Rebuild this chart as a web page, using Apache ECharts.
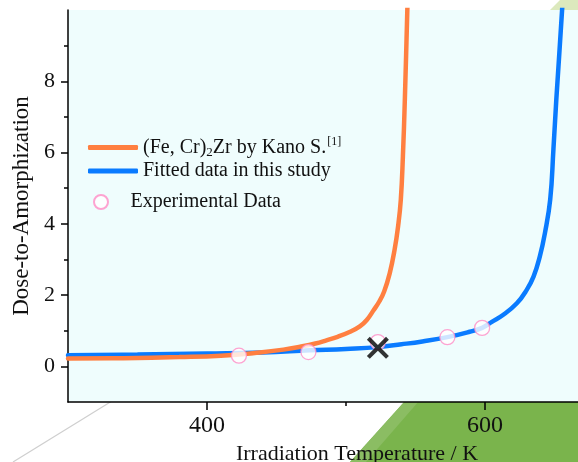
<!DOCTYPE html>
<html>
<head>
<meta charset="utf-8">
<script src="https://cdn.jsdelivr.net/npm/echarts@6/dist/echarts.min.js"></script>
<style>
  html, body { margin: 0; padding: 0; background: #fff; }
  #chart { width: 578px; height: 462px; }
</style>
</head>
<body>
<div id="chart"></div>
<script>
// (Fe, Cr)2Zr curve by Kano S.
var kanoTemp = [300, 340, 380, 410, 438, 455, 467, 478, 486, 494, 503, 510, 515, 520, 524, 527.5, 531.5, 535, 537.5, 539.5, 541, 542.4, 544.2, 544.6];
var kanoDose = [0.22, 0.23, 0.26, 0.30, 0.39, 0.47, 0.55, 0.64, 0.73, 0.83, 0.97, 1.12, 1.30, 1.58, 1.82, 2.10, 2.61, 3.27, 3.92, 4.68, 5.9, 7.49, 10.03, 10.6];

// fitted curve of this study
var fitTemp = [300, 350, 400, 440, 474, 500, 523, 540, 555, 573, 589, 598, 605, 613, 623, 630, 635, 639.5, 643.2, 647, 649.3, 651.4, 655.6, 656.2];
var fitDose = [0.31, 0.33, 0.36, 0.39, 0.45, 0.49, 0.54, 0.62, 0.70, 0.82, 0.97, 1.08, 1.25, 1.44, 1.77, 2.14, 2.52, 3.08, 3.74, 4.68, 6.08, 7.49, 10.03, 10.6];

// experimental points
var expTemp = [423, 473, 523, 573, 598];
var expDose = [0.30, 0.40, 0.68, 0.82, 1.08];

// the cross mark
var crossTemp = [523];
var crossDose = [0.52];

var xMajor = [400, 600];
var xMinor = [500];
var yMajor = [0, 2, 4, 6, 8];
var yMinor = [1, 3, 5, 7, 9];

function pairs(xs, ys) {
  return xs.map(function (x, i) { return [x, ys[i]]; });
}

var serif = 'Liberation Serif';
var ink = '#111111';

var chart = echarts.init(document.getElementById('chart'));

var crossPath = 'path://M0,2.6L2.6,0L10,7.4L17.4,0L20,2.6L12.6,10L20,17.4L17.4,20L10,12.6L2.6,20L0,17.4L7.4,10Z';

chart.setOption({
  animation: false,
  backgroundColor: '#ffffff',
  textStyle: { fontFamily: serif },
  graphic: [
    { type: 'line', z: -10, shape: { x1: 13, y1: 462, x2: 112, y2: 401 }, style: { stroke: '#cfcfcf', lineWidth: 1.2 } },
    { type: 'polygon', z: -10, shape: { points: [[405, 401], [578, 401], [578, 462], [350, 462]] }, style: { fill: '#7ab44c' } },
    { type: 'polygon', z: -9, shape: { points: [[405, 401], [419, 401], [366, 462], [350, 462]] }, style: { fill: '#8bbd63' } },
    { type: 'polygon', z: -10, shape: { points: [[560, 0], [578, 0], [578, 10], [550, 10]] }, style: { fill: '#dce9bd' } }
  ],
  grid: [
    { left: 68, right: 0, top: 10, bottom: 60, show: true, backgroundColor: '#effdfd', borderWidth: 0, containLabel: false, outerBoundsMode: 'none' },
    { left: 68, right: 0, top: 10, bottom: 60, show: false, containLabel: false, outerBoundsMode: 'none' }
  ],
  legend: [
    {
      left: 83, top: 131, orient: 'vertical', itemGap: 2,
      itemWidth: 50, itemHeight: 5, icon: 'roundRect',
      data: ['kano', 'fit'],
      formatter: function (name) {
        if (name === 'kano') return '{t|(Fe, Cr)}{sub|2}{t|Zr by Kano S.}{sup|[1]}';
        return '{t|Fitted data in this study}';
      },
      textStyle: {
        fontFamily: serif, fontSize: 20, color: ink,
        rich: {
          t: { fontFamily: serif, fontSize: 20, color: ink },
          sub: { fontFamily: serif, fontSize: 13, color: ink, padding: [10, 0, 0, 0] },
          sup: { fontFamily: serif, fontSize: 12, color: ink, padding: [0, 0, 11, 1] }
        }
      }
    },
    {
      left: 88, top: 187, orient: 'vertical',
      itemWidth: 49, itemHeight: 14, icon: 'circle',
      data: ['exp'],
      formatter: function () { return 'Experimental Data'; },
      textStyle: { fontFamily: serif, fontSize: 20, color: ink }
    }
  ],
  xAxis: [
    {
      type: 'value', gridIndex: 0, min: 300, max: 667, interval: 100,
      name: 'Irradiation Temperature / K', nameLocation: 'middle', nameGap: 38,
      nameTextStyle: { fontFamily: serif, fontSize: 22, color: ink, padding: [0, 0, 0, 68] },
      axisLine: { show: true, onZero: false, lineStyle: { color: '#000', width: 1.5 } },
      axisTick: { show: true, inside: false, length: 8, customValues: xMajor, lineStyle: { color: '#000', width: 1.5 } },
      axisLabel: { customValues: xMajor, margin: 12, fontFamily: serif, fontSize: 24, color: ink },
      splitLine: { show: false }
    },
    {
      type: 'value', gridIndex: 1, min: 300, max: 667, interval: 100,
      axisLine: { show: false, onZero: false },
      axisTick: { show: true, inside: false, length: 4, customValues: xMinor, lineStyle: { color: '#000', width: 1.5 } },
      axisLabel: { show: false },
      splitLine: { show: false }
    }
  ],
  yAxis: [
    {
      type: 'value', gridIndex: 0, min: -1, max: 10, interval: 1,
      name: 'Dose-to-Amorphization', nameLocation: 'middle', nameGap: 28,
      nameTextStyle: { fontFamily: serif, fontSize: 23, color: ink },
      axisLine: { show: true, onZero: false, lineStyle: { color: '#000', width: 1.5 } },
      axisTick: { show: true, inside: false, length: 7, customValues: yMajor, lineStyle: { color: '#000', width: 1.5 } },
      axisLabel: { customValues: yMajor, margin: 13, fontFamily: serif, fontSize: 22, color: ink },
      splitLine: { show: false }
    },
    {
      type: 'value', gridIndex: 1, min: -1, max: 10, interval: 1,
      axisLine: { show: false, onZero: false },
      axisTick: { show: true, inside: false, length: 4, customValues: yMinor, lineStyle: { color: '#000', width: 1.5 } },
      axisLabel: { show: false },
      splitLine: { show: false }
    }
  ],
  series: [
    {
      name: 'fit', type: 'line', xAxisIndex: 0, yAxisIndex: 0,
      data: pairs(fitTemp, fitDose), smooth: 0.45, showSymbol: false, symbol: 'none',
      itemStyle: { color: '#0a7bff' },
      lineStyle: { color: '#0a7bff', width: 4.5, cap: 'round' }, z: 2
    },
    {
      name: 'kano', type: 'line', xAxisIndex: 0, yAxisIndex: 0,
      data: pairs(kanoTemp, kanoDose), smooth: 0.45, showSymbol: false, symbol: 'none',
      itemStyle: { color: '#ff7f40' },
      lineStyle: { color: '#ff7f40', width: 4.5, cap: 'round' }, z: 3
    },
    {
      name: 'exp', type: 'scatter', xAxisIndex: 0, yAxisIndex: 0,
      data: pairs(expTemp, expDose), symbol: 'circle', symbolSize: 15,
      itemStyle: { color: '#ffffff', borderColor: '#ff8cc6', borderWidth: 1.3 }, z: 4
    },
    {
      name: 'cross', type: 'scatter', xAxisIndex: 0, yAxisIndex: 0,
      data: pairs(crossTemp, crossDose), symbol: crossPath, symbolSize: 22,
      itemStyle: { color: '#000000' }, z: 5
    }
  ]
});
</script>
</body>
</html>
